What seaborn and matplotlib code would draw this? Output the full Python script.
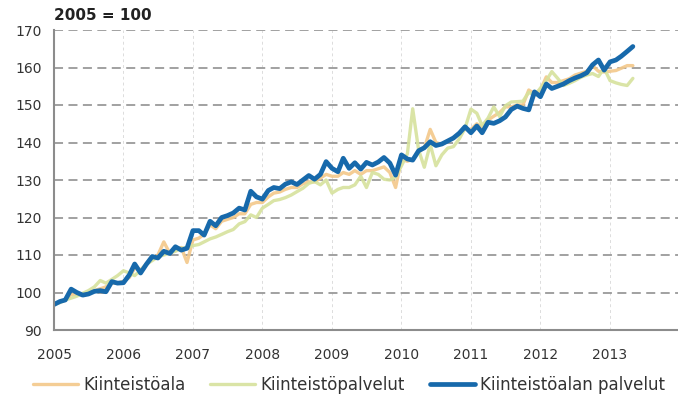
import pandas as pd
import matplotlib.pyplot as plt
import matplotlib.dates as mdates
import seaborn as sns

# Monthly index values, 2005 = 100 (Jan 2005 - May 2013)
months = pd.date_range("2005-01-01", periods=101, freq="MS")

kiinteistoala = [
    97.0, 97.5, 98.0, 99.5, 99.5, 99.3, 99.8, 100.5, 101.0, 101.5, 102.5, 102.5,
    103.0, 104.0, 106.5, 106.0, 107.5, 109.0, 110.0, 113.5, 110.5, 111.5, 112.0, 108.0,
    114.0, 114.5, 115.5, 118.0, 117.0, 119.0, 119.5, 120.0, 121.0, 121.0, 123.5, 124.0,
    124.0, 125.5, 126.5, 126.8, 127.5, 128.0, 128.0, 129.0, 129.5, 129.5, 130.5, 131.5,
    131.0, 131.0, 132.0, 131.5, 132.5, 131.5, 132.5, 132.5, 133.0, 133.5, 132.0, 128.0,
    135.5, 135.0, 135.5, 137.5, 138.5, 143.5, 140.0, 139.5, 140.5, 141.0, 142.5, 143.5,
    143.5, 145.0, 144.0, 146.0, 147.0, 148.0, 149.5, 149.5, 150.0, 150.0, 154.0, 153.0,
    154.0, 157.5, 156.0, 156.0, 156.5, 157.0, 158.0, 158.5, 159.0, 160.5, 159.0, 158.8,
    159.0, 159.2, 159.8, 160.5, 160.5,
]

kiinteistopalvelut = [
    96.8, 97.3, 98.0, 98.5, 99.0, 99.8, 100.5, 101.5, 103.2, 102.5, 103.5, 104.5,
    105.8, 105.2, 104.5, 106.0, 107.5, 108.5, 109.5, 110.0, 110.5, 111.0, 111.8, 112.0,
    112.5, 112.8, 113.5, 114.3, 114.8, 115.5, 116.2, 116.8, 118.3, 118.9, 120.7, 120.0,
    122.5, 123.5, 124.5, 124.8, 125.3, 126.0, 126.9, 127.8, 129.1, 129.6, 128.7, 130.0,
    126.5, 127.5, 128.0, 128.0, 128.7, 131.0, 128.0, 132.0, 131.5, 130.2, 130.0, 130.8,
    133.8, 137.0, 149.0, 138.0, 133.4, 139.5, 133.8, 136.7, 138.5, 138.9, 141.0, 143.8,
    148.9, 147.8, 144.5, 146.5, 149.5, 146.9, 149.8, 150.8, 150.9, 151.0, 153.4, 152.5,
    154.5, 156.5, 158.9, 157.1, 155.2, 155.8, 156.5, 157.4, 158.0, 158.4, 157.6, 159.8,
    156.5, 155.9, 155.5, 155.2, 157.1,
]

kiinteistoalan_palvelut = [
    96.8, 97.6, 98.0, 100.9, 100.0, 99.3, 99.6, 100.3, 100.5, 100.2, 102.9, 102.5,
    102.6, 104.7, 107.6, 105.2, 107.5, 109.6, 109.2, 111.0, 110.4, 112.2, 111.3, 111.8,
    116.5, 116.5, 115.3, 119.0, 117.8, 120.0, 120.5, 121.2, 122.5, 122.0, 127.0, 125.5,
    124.9, 127.2, 128.0, 127.7, 128.9, 129.5, 128.8, 130.0, 131.2, 130.2, 131.5, 134.9,
    133.1, 132.2, 135.8, 133.1, 134.6, 132.9, 134.7, 134.0, 134.8, 136.0, 134.5, 131.3,
    136.7, 135.6, 135.3, 137.8, 138.6, 140.2, 139.2, 139.6, 140.4, 141.2, 142.5, 144.2,
    142.6, 144.4, 142.6, 145.4, 145.1, 145.8, 146.8, 148.8, 149.7, 149.1, 148.7, 153.5,
    152.2, 155.6, 154.4, 155.0, 155.6, 156.5, 157.2, 157.8, 158.6, 160.7, 162.0, 159.3,
    161.5, 162.0, 163.0, 164.3, 165.6,
]

series_names = ["Kiinteistöala", "Kiinteistöpalvelut", "Kiinteistöalan palvelut"]
colors = ["#f3c88a", "#d6e29c", "#1769ab"]
widths = [2.4, 2.4, 3.4]

df = pd.DataFrame({
    "month": list(months) * 3,
    "value": kiinteistoala + kiinteistopalvelut + kiinteistoalan_palvelut,
    "series": [n for n in series_names for _ in months],
})

sns.set_style("white")
plt.rcParams["font.family"] = ["DejaVu Sans"]

fig = plt.figure(figsize=(6.78, 4.03), dpi=100)
ax = fig.add_axes([54 / 678, 73 / 403, 625.5 / 678, 300 / 403])

for name, col, lw in zip(series_names, colors, widths):
    sns.lineplot(data=df[df["series"] == name], x="month", y="value",
                 color=col, linewidth=lw, ax=ax, label=name, legend=False,
                 alpha=0.9 if name != series_names[2] else 1.0)

ax.set_xlim(pd.Timestamp("2005-01-01"), pd.Timestamp("2014-01-01"))
ax.set_ylim(90, 170)
ax.set_yticks(range(90, 171, 10))
ax.set_xticks([pd.Timestamp(f"{y}-01-01") for y in range(2005, 2014)])
ax.xaxis.set_major_formatter(mdates.DateFormatter("%Y"))
ax.set_xlabel("")
ax.set_ylabel("")

ax.yaxis.grid(True, color="#9a9a9a", linestyle=(0, (5, 3)), linewidth=1.3)
ax.xaxis.grid(True, color="#dcdcdc", linestyle=(0, (3, 3)), linewidth=0.7)
ax.set_axisbelow(True)

for side in ["top", "right"]:
    ax.spines[side].set_visible(False)
for side in ["left", "bottom"]:
    ax.spines[side].set_color("#8c8c8c")
    ax.spines[side].set_linewidth(1.5)

ax.tick_params(axis="both", labelsize=10, colors="#333333", length=5,
               width=1.2, direction="out")
ax.tick_params(axis="both", color="#8c8c8c")
ax.tick_params(axis="x", pad=8)

fig.text(54 / 678, 1 - 15 / 403, "2005 = 100", fontsize=11, fontweight="bold",
         color="#222222", va="center", ha="left")

handles = ax.get_lines()[:3]
fig.legend(handles, series_names, loc="center", ncol=3,
           bbox_to_anchor=(349 / 678, 1 - 385 / 403), frameon=False,
           fontsize=12, handlelength=2.7, columnspacing=1.5, handletextpad=0.3,
           borderpad=0.2, labelcolor="#333333")

plt.savefig("out.png", dpi=100)
